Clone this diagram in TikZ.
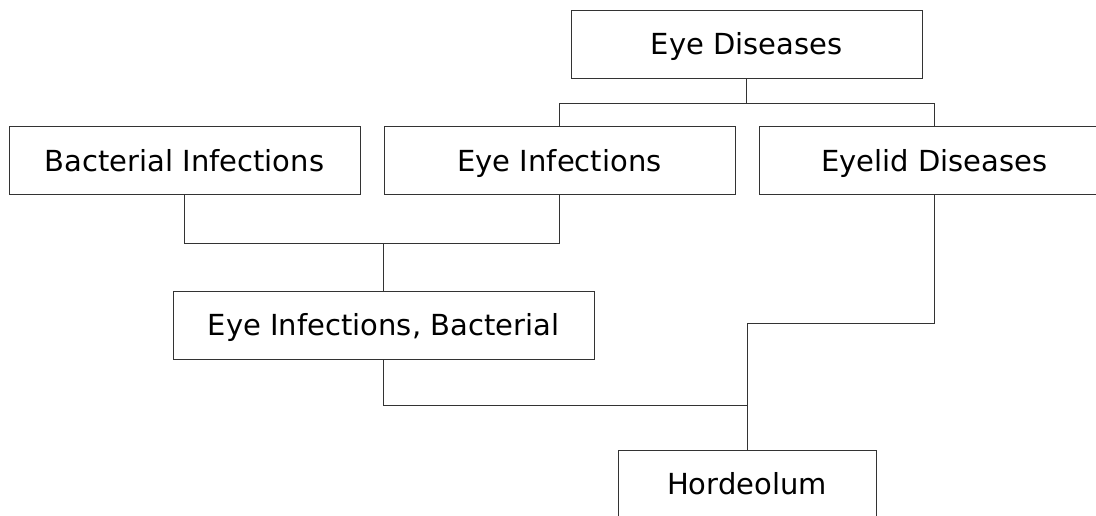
\documentclass[tikz,border=0pt]{standalone}
\usepackage{fontspec}
\setmainfont{DejaVu Sans}
\usetikzlibrary{positioning}

\begin{document}
\begin{tikzpicture}[
  x=1pt, y=1pt,
  node distance=23pt,
  box/.style={draw=black!80, line width=1pt, minimum width=351pt, minimum height=68pt,
    inner sep=0pt, text height=21pt, text depth=0pt, font=\fontsize{29}{34}\selectfont},
  link/.style={draw=black!80, line width=1pt}
]
\clip (0,0) rectangle (1096,-516);
\useasboundingbox (0,0) rectangle (1096,-516);

\node[box] (bi) at (184.5,-161) {Bacterial Infections};
\node[box, right=of bi] (ei) {Eye Infections};
\node[box, right=of ei] (eld) {Eyelid Diseases};
\node[box] (ed) at (746.8,-44.2) {Eye Diseases};
\node[box, minimum width=421pt] (eib) at (383.5,-325) {Eye Infections, Bacterial};
\node[box, minimum width=258pt] (ho) at (747,-484) {Hordeolum};

% tree links
\draw[link] (ed.south) -- ++(0,-24.5) -| (ei.north);
\draw[link] (ed.south) -- ++(0,-24.5) -| (eld.north);
\draw[link] (bi.south) -- ++(0,-48) -| (eib.north);
\draw[link] (ei.south) -- ++(0,-48) -| (eib.north);
\draw[link] (eib.south) -- ++(0,-46) -| (ho.north);
\draw[link] (eld.south) -- ++(0,-128) -| (ho.north);
\end{tikzpicture}
\end{document}
